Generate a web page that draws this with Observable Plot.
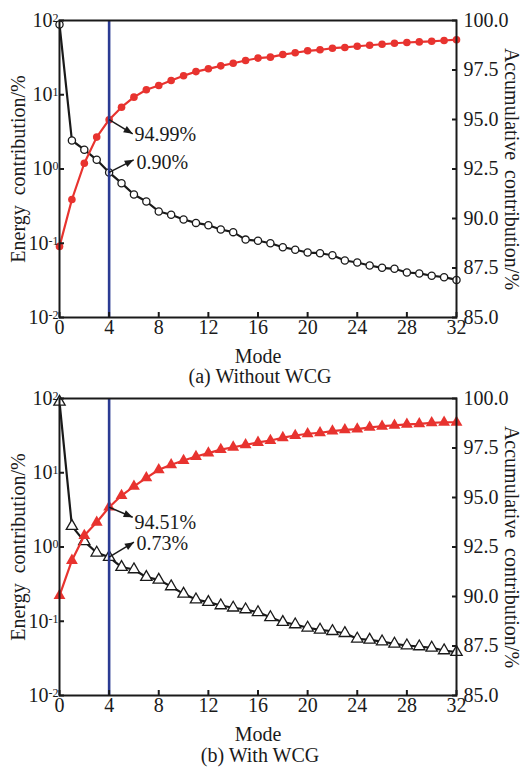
<!DOCTYPE html>
<html><head><meta charset="utf-8">
<script src="https://cdn.jsdelivr.net/npm/d3@7"></script>
<script src="https://cdn.jsdelivr.net/npm/@observablehq/plot@0.6"></script>
<style>
body{margin:0;background:#fff;font-family:"Liberation Serif","Times New Roman",serif;color:#1a1a1a}
.cap{width:520px;text-align:center;font-size:20px;line-height:19px;height:19px;white-space:pre}
.capb{line-height:20px;height:22px}
</style></head><body>
<div id="a"></div><div class="cap">(a) Without WCG</div>
<div id="b"></div><div class="cap capb">(b) With WCG</div>
<script>
const modes = [0,1,2,3,4,5,6,7,8,9,10,11,12,13,14,15,16,17,18,19,20,21,22,23,24,25,26,27,28,29,30,31,32];
const xTicks = [0,4,8,12,16,20,24,28,32];
const leftTicks = [0.01,0.1,1,10,100];
const rightTicks = [85,87.5,90,92.5,95,97.5,100];

// (a) Without WCG
const energyA = [88.52,2.42,1.82,1.33,0.90,0.644,0.454,0.365,0.268,0.242,0.209,0.188,0.175,0.153,0.141,0.112,0.108,0.100,0.0885,0.0817,0.0750,0.0734,0.0690,0.0586,0.0551,0.0501,0.0467,0.0453,0.0404,0.0392,0.0365,0.0349,0.0321];
const accumA = [88.59,90.96,92.79,94.11,94.99,95.62,96.13,96.50,96.72,96.97,97.21,97.42,97.56,97.71,97.84,97.98,98.10,98.15,98.28,98.37,98.47,98.52,98.60,98.64,98.70,98.75,98.80,98.85,98.89,98.92,98.95,98.99,99.03];
// (b) With WCG
const energyB = [90.0,1.91,1.19,0.836,0.73,0.535,0.498,0.392,0.361,0.294,0.234,0.196,0.181,0.163,0.152,0.144,0.132,0.113,0.0971,0.0904,0.0817,0.0767,0.0734,0.0690,0.0581,0.0562,0.0533,0.0497,0.0471,0.0457,0.0439,0.0404,0.0383];
const accumB = [90.05,91.82,93.08,93.75,94.51,95.10,95.56,95.99,96.40,96.65,96.87,97.07,97.24,97.42,97.54,97.66,97.78,97.88,98.02,98.13,98.22,98.27,98.35,98.42,98.45,98.54,98.60,98.64,98.69,98.72,98.77,98.80,98.80];

// annotations: label, which series, arrow end & label position (mode, left-axis value)
const notesA = [
  {label:"94.99%", series:"accum", mode:4, ex:5.9, ey:2.98, tx:6.05, ty:2.91},
  {label:"0.90%", series:"energy", mode:4, ex:5.98, ey:1.33, tx:6.21, ty:1.235}
];
const notesB = [
  {label:"94.51%", series:"accum", mode:4, ex:5.9, ey:2.52, tx:6.05, ty:2.16},
  {label:"0.73%", series:"energy", mode:4, ex:6.0, ey:1.16, tx:6.21, ty:1.11}
];

const RED = "#e8332f", BLUE = "#2b3b93", INK = "#1a1a1a";
// map right-axis (85..100, linear) onto the left log axis (0.01..100)
const toLeft = v => Math.pow(10, -2 + (v - 85) / 15 * 4);
const fromLeft = d => 85 + (Math.log10(d) + 2) / 4 * 15;

function filledArrow(color){
  const m = document.createElementNS("http://www.w3.org/2000/svg","marker");
  m.setAttribute("viewBox","-10 -5 10 10");
  m.setAttribute("markerWidth","10");
  m.setAttribute("markerHeight","10");
  m.setAttribute("markerUnits","userSpaceOnUse");
  m.setAttribute("orient","auto");
  m.setAttribute("refX","0");
  m.setAttribute("refY","0");
  m.setAttribute("fill", color);
  m.setAttribute("stroke","none");
  const p = document.createElementNS("http://www.w3.org/2000/svg","path");
  p.setAttribute("d","M-9,-3.6L0,0L-9,3.6Z");
  m.appendChild(p);
  return m;
}

function supers(svg){
  svg.querySelectorAll("text").forEach(t=>{
    const m = /^10\^(-?\d+)$/.exec(t.textContent);
    if(m){
      t.textContent = "10";
      const ts = document.createElementNS("http://www.w3.org/2000/svg","tspan");
      ts.setAttribute("dy","-5");
      ts.setAttribute("font-size","12");
      ts.textContent = m[1];
      t.appendChild(ts);
    }
  });
}

function panel(energy, accum, symbol, notes, marginTop){
  const rows = modes.map((m,i)=>({mode:m, energy:energy[i], accum:accum[i]}));
  const ann = notes.map(n=>({...n, y0: n.series==="accum" ? toLeft(accum[modes.indexOf(n.mode)]) : energy[modes.indexOf(n.mode)]}));
  const svg = Plot.plot({
    width:520, height: marginTop + 297 + 50,
    marginTop, marginBottom:50, marginLeft:59, marginRight:64,
    x:{domain:[0,32]},
    y:{type:"log", domain:[0.01,100]},
    style:{fontFamily:"'Liberation Serif','Times New Roman',serif", fontSize:"20px", color:INK, background:"white", overflow:"visible"},
    marks:[
      Plot.line(rows,{x:"mode", y:"energy", stroke:INK, strokeWidth:2.2}),
      Plot.dot(rows,{x:"mode", y:"energy", symbol, r: symbol==="circle"?3.6:4.2, stroke:INK, fill:"white", strokeWidth:1.3}),
      Plot.line(rows,{x:"mode", y:d=>toLeft(d.accum), stroke:RED, strokeWidth:2.2}),
      Plot.dot(rows,{x:"mode", y:d=>toLeft(d.accum), symbol, r: symbol==="circle"?3.8:4.4, fill:RED}),
      Plot.ruleX([4],{stroke:BLUE, strokeWidth:2.6}),
      Plot.frame({stroke:INK, strokeWidth:2}),
      Plot.axisX(xTicks,{anchor:"bottom", tickSize:-5, tickPadding:7, strokeWidth:2, label:null, fontSize:20}),
      Plot.axisY(leftTicks,{anchor:"left", tickSize:-5, tickPadding:6, strokeWidth:2, label:null, fontSize:20,
        text:d=>"10^"+Math.round(Math.log10(d))}),
      Plot.axisY(rightTicks.map(toLeft),{anchor:"right", tickSize:-5, tickPadding:12, strokeWidth:2, label:null, fontSize:20,
        text:d=>fromLeft(d).toFixed(1)}),
      Plot.link(ann,{x1:"mode", y1:"y0", x2:"ex", y2:"ey", stroke:INK, strokeWidth:1.5, markerEnd: filledArrow}),
      Plot.text(ann,{x:"tx", y:"ty", text:"label", textAnchor:"start", lineAnchor:"middle", fill:INK, fontSize:20}),
      Plot.text(["Energy\u00a0 contribution/%"],{frameAnchor:"left", rotate:-90, dx:-41, textAnchor:"middle", lineAnchor:"middle", fill:INK, fontSize:20}),
      Plot.text(["Accumulative\u00a0 contribution/%"],{frameAnchor:"right", rotate:90, dx:55, textAnchor:"middle", lineAnchor:"middle", fill:INK, fontSize:20}),
      Plot.text(["Mode"],{frameAnchor:"bottom", dy:39, textAnchor:"middle", lineAnchor:"middle", fill:INK, fontSize:20})
    ]
  });
  supers(svg);
  return svg;
}

document.getElementById("a").appendChild(panel(energyA, accumA, "circle", notesA, 20));
document.getElementById("b").appendChild(panel(energyB, accumB, "triangle", notesB, 12));
</script>
</body></html>
